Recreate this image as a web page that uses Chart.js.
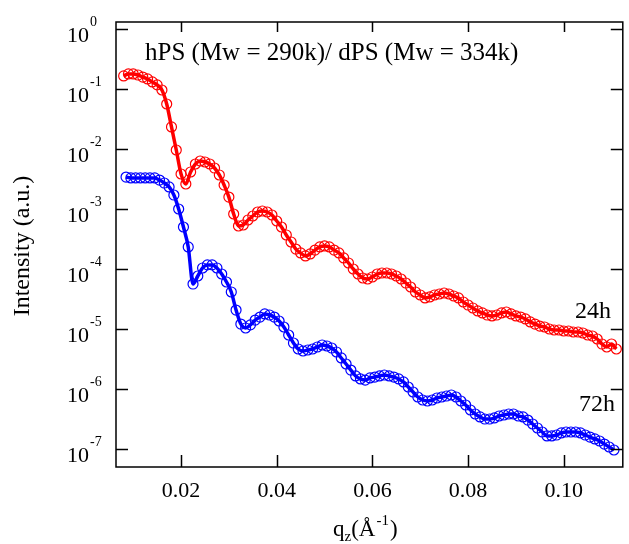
<!DOCTYPE html>
<html lang="en">
<head>
    <meta charset="UTF-8">
    <title>Intensity vs qz</title>
    <style>
        body { margin: 0; background: #fff; }
        #chart { display: block; }
    </style>
</head>
<body>
    <canvas id="chart" width="629" height="544"></canvas>
    <script src="https://cdn.jsdelivr.net/npm/chart.js"></script>
    <script>

// qz values (1/A) and intensities
const q24 = [0.008,0.009,0.010,0.011,0.012,0.013,0.014,0.015,0.016,0.017,
  0.018,0.019,0.020,0.021,0.022,0.023,0.024,0.025,0.026,0.027,
  0.028,0.029,0.030,0.031,0.032,0.033,0.034,0.035,0.036,0.037,
  0.038,0.039,0.040,0.041,0.042,0.043,0.044,0.045,0.046,0.047,
  0.048,0.049,0.050,0.051,0.052,0.053,0.054,0.055,0.056,0.057,
  0.058,0.059,0.060,0.061,0.062,0.063,0.064,0.065,0.066,0.067,
  0.068,0.069,0.070,0.071,0.072,0.073,0.074,0.075,0.076,0.077,
  0.078,0.079,0.080,0.081,0.082,0.083,0.084,0.085,0.086,0.087,
  0.088,0.089,0.090,0.091,0.092,0.093,0.094,0.095,0.096,0.097,
  0.098,0.099,0.100,0.101,0.102,0.103,0.104,0.105,0.106,0.107,
  0.108,0.109,0.110,0.111];
const i24 = [0.165,0.178,0.178,0.171,0.158,0.147,0.131,0.117,0.0962,0.0562,
  0.0233,0.00962,0.00383,0.00261,0.00414,0.00562,0.00631,0.00607,0.00562,0.00482,
  0.00369,0.00251,0.00158,0.000825,0.000521,0.000541,0.000656,0.000764,0.000891,0.000926,
  0.000891,0.000794,0.000631,0.000501,0.000369,0.000282,0.000215,0.000185,0.000165,0.000178,
  0.000207,0.000233,0.000242,0.000233,0.000207,0.000185,0.000153,0.000126,0.0001,8.25e-5,
  7.08e-5,6.81e-5,7.36e-5,8.25e-5,8.58e-5,8.58e-5,8.25e-5,7.64e-5,6.81e-5,5.84e-5,
  5.01e-5,4.14e-5,3.69e-5,3.29e-5,3.42e-5,3.69e-5,3.83e-5,3.98e-5,3.83e-5,3.55e-5,
  3.29e-5,2.82e-5,2.51e-5,2.24e-5,2.0e-5,1.85e-5,1.71e-5,1.65e-5,1.71e-5,1.85e-5,
  1.92e-5,1.78e-5,1.65e-5,1.58e-5,1.47e-5,1.31e-5,1.21e-5,1.12e-5,1.08e-5,1.0e-5,
  9.62e-6,9.62e-6,9.26e-6,9.26e-6,8.91e-6,8.91e-6,8.58e-6,7.94e-6,7.64e-6,6.81e-6,
  5.62e-6,5.01e-6,5.62e-6,4.64e-6];

const q72 = [0.0085,0.0095,0.0105,0.0115,0.0125,0.0135,0.0145,0.0155,0.0165,0.0175,
  0.0185,0.0195,0.0205,0.0215,0.0225,0.0235,0.0245,0.0255,0.0265,0.0275,
  0.0285,0.0295,0.0305,0.0315,0.0325,0.0335,0.0345,0.0355,0.0365,0.0375,
  0.0385,0.0395,0.0405,0.0415,0.0425,0.0435,0.0445,0.0455,0.0465,0.0475,
  0.0485,0.0495,0.0505,0.0515,0.0525,0.0535,0.0545,0.0555,0.0565,0.0575,
  0.0585,0.0595,0.0605,0.0615,0.0625,0.0635,0.0645,0.0655,0.0665,0.0675,
  0.0685,0.0695,0.0705,0.0715,0.0725,0.0735,0.0745,0.0755,0.0765,0.0775,
  0.0785,0.0795,0.0805,0.0815,0.0825,0.0835,0.0845,0.0855,0.0865,0.0875,
  0.0885,0.0895,0.0905,0.0915,0.0925,0.0935,0.0945,0.0955,0.0965,0.0975,
  0.0985,0.0995,0.1005,0.1015,0.1025,0.1035,0.1045,0.1055,0.1065,0.1075,
  0.1085,0.1095,0.1105];
const i72 = [0.00341,0.00329,0.00329,0.00329,0.00329,0.00329,0.00329,0.00304,0.00271,0.00233,
  0.00171,0.001,0.000501,0.000233,5.62e-5,7.64e-5,0.000104,0.000117,0.000117,0.000104,
  8.25e-5,6.07e-5,4.14e-5,2.07e-5,1.21e-5,1.04e-5,1.17e-5,1.41e-5,1.58e-5,1.78e-5,
  1.71e-5,1.58e-5,1.36e-5,1.08e-5,7.94e-6,5.84e-6,4.64e-6,4.30e-6,4.47e-6,4.64e-6,
  5.01e-6,5.41e-6,5.21e-6,4.82e-6,4.14e-6,3.29e-6,2.61e-6,2.07e-6,1.65e-6,1.47e-6,
  1.41e-6,1.53e-6,1.58e-6,1.65e-6,1.71e-6,1.65e-6,1.58e-6,1.47e-6,1.31e-6,1.08e-6,
  8.91e-7,7.36e-7,6.56e-7,6.31e-7,6.56e-7,7.08e-7,7.36e-7,7.64e-7,7.94e-7,7.36e-7,
  6.31e-7,5.41e-7,4.47e-7,3.83e-7,3.42e-7,3.16e-7,3.16e-7,3.29e-7,3.55e-7,3.69e-7,
  3.83e-7,3.83e-7,3.55e-7,3.42e-7,3.04e-7,2.61e-7,2.24e-7,1.92e-7,1.65e-7,1.65e-7,
  1.71e-7,1.85e-7,1.92e-7,1.92e-7,1.92e-7,1.85e-7,1.71e-7,1.58e-7,1.47e-7,1.36e-7,
  1.21e-7,1.08e-7,9.62e-8];

const xTicks = [0.02, 0.04, 0.06, 0.08, 0.10];
const xTickLabels = ['0.02', '0.04', '0.06', '0.08', '0.10'];
const yTickExps = [0, -1, -2, -3, -4, -5, -6, -7];

const serif = '"Liberation Serif", "Times New Roman", serif';

function pts(qs, is) {
  return qs.map((q, k) => ({ x: q, y: is[k] }));
}

// box, inward ticks, tick labels and the texts
const frame = {
  id: 'frame',
  afterDraw(chart) {
    const c = chart.ctx;
    const a = chart.chartArea;
    const xs = chart.scales.x, ys = chart.scales.y;
    c.save();
    c.strokeStyle = '#000';
    c.lineWidth = 1.5;
    c.strokeRect(a.left, a.top, a.right - a.left, a.bottom - a.top);
    c.beginPath();
    xTicks.forEach(v => {
      const px = Math.round(xs.getPixelForValue(v)) + 0.5;
      c.moveTo(px, a.bottom); c.lineTo(px, a.bottom - 12);
      c.moveTo(px, a.top); c.lineTo(px, a.top + 10);
    });
    yTickExps.forEach(e => {
      const py = Math.round(ys.getPixelForValue(Math.pow(10, e))) + 0.5;
      c.moveTo(a.left, py); c.lineTo(a.left + 12, py);
      c.moveTo(a.right, py); c.lineTo(a.right - 12, py);
    });
    c.stroke();

    c.fillStyle = '#000';
    c.font = '22px ' + serif;
    c.textAlign = 'center';
    c.textBaseline = 'alphabetic';
    xTicks.forEach((v, k) => {
      c.fillText(xTickLabels[k], xs.getPixelForValue(v), 497);
    });
    c.textAlign = 'left';
    yTickExps.forEach(e => {
      const py = ys.getPixelForValue(Math.pow(10, e));
      c.font = '22px ' + serif;
      c.fillText('10', 67, py + 13);
      const w = c.measureText('10').width;
      c.font = '14px ' + serif;
      c.fillText(e === 0 ? '0' : '-' + Math.abs(e), 67 + w + 1, py - 3);
    });

    c.font = '25px ' + serif;
    c.fillText('hPS (Mw = 290k)/ dPS (Mw = 334k)', 145, 60);
    c.font = '24px ' + serif;
    c.fillText('24h', 575, 318);
    c.fillText('72h', 579, 411);

    // y title
    c.save();
    c.translate(29, 246);
    c.rotate(-Math.PI / 2);
    c.textAlign = 'center';
    c.font = '24px ' + serif;
    c.fillText('Intensity (a.u.)', 0, 0);
    c.restore();

    // x title: q_z(Å^-1)
    let x = 333;
    const base = 536;
    c.font = '23px ' + serif;
    c.fillText('q', x, base); x += c.measureText('q').width;
    c.font = '15px ' + serif;
    c.fillText('z', x, base + 5); x += c.measureText('z').width;
    c.font = '23px ' + serif;
    c.fillText('(Å', x, base); x += c.measureText('(Å').width + 1;
    c.font = '15px ' + serif;
    c.fillText('-1', x, base - 11); x += c.measureText('-1').width + 1;
    c.font = '23px ' + serif;
    c.fillText(')', x, base);
    c.restore();
  }
};

const lineSet = (data, color) => ({
  data: data,
  borderColor: color,
  borderWidth: 3.5,
  pointRadius: 0,
  cubicInterpolationMode: 'monotone',
  fill: false
});
const markSet = (data, color) => ({
  data: data,
  showLine: false,
  pointRadius: 5,
  pointStyle: 'circle',
  pointBorderColor: color,
  pointBackgroundColor: 'rgba(0,0,0,0)',
  pointBorderWidth: 1.2
});

new Chart(document.getElementById('chart'), {
  type: 'line',
  data: {
    datasets: [
      lineSet(pts(q24, i24), '#ff0000'),
      lineSet(pts(q72, i72), '#0000ff'),
      markSet(pts(q24, i24), '#ff0000'),
      markSet(pts(q72, i72), '#0000ff')
    ]
  },
  options: {
    responsive: false,
    animation: false,
    layout: { padding: { top: 22, right: 1, left: 0, bottom: 0 } },
    plugins: { legend: { display: false }, tooltip: { enabled: false } },
    scales: {
      x: {
        type: 'linear',
        min: 0.0064,
        max: 0.11235,
        grid: { display: false },
        border: { display: false },
        ticks: { display: false },
        afterFit: s => { s.height = 77; }
      },
      y: {
        type: 'logarithmic',
        min: 5.012e-8,
        max: 1.308,
        grid: { display: false },
        border: { display: false },
        ticks: { display: false },
        afterFit: s => { s.width = 116; }
      }
    }
  },
  plugins: [frame]
});
    </script>
</body>
</html>
